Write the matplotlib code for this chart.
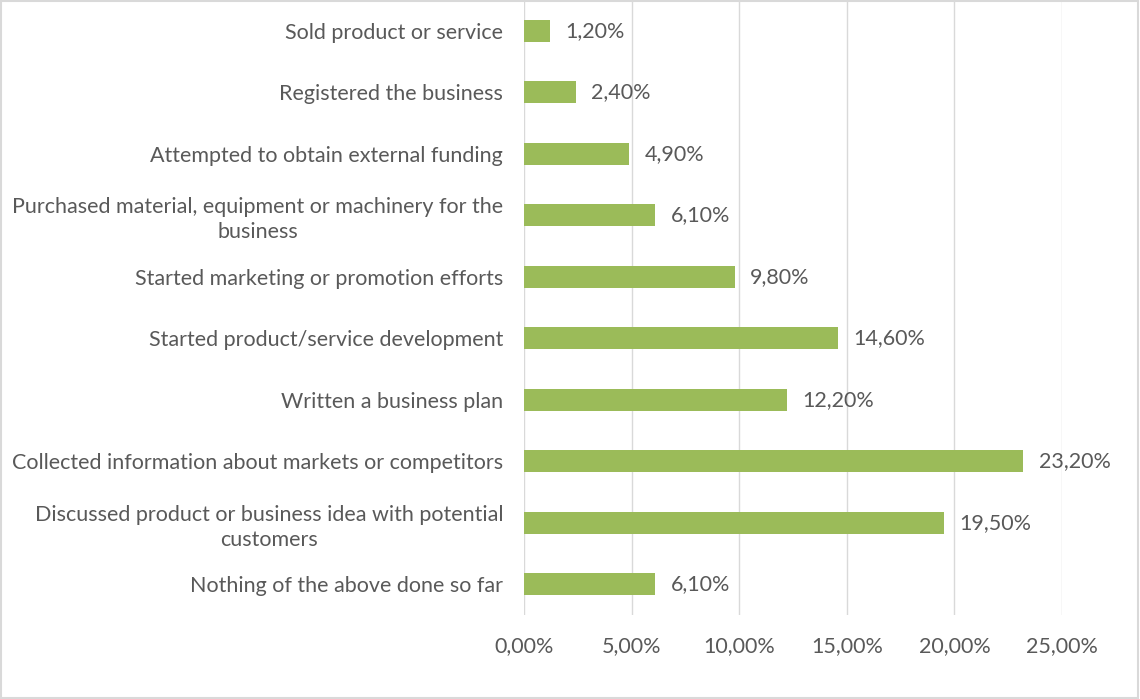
import matplotlib
matplotlib.use('Agg')
import matplotlib.pyplot as plt
import matplotlib.ticker as mticker
from matplotlib.patches import Rectangle

plt.rcParams['font.family'] = ['Lato', 'DejaVu Sans']

activities = [
    'Sold product or service',
    'Registered the business',
    'Attempted to obtain external funding',
    'Purchased material, equipment or machinery for the\nbusiness',
    'Started marketing or promotion efforts',
    'Started product/service development',
    'Written a business plan',
    'Collected information about markets or competitors',
    'Discussed product or business idea with potential\ncustomers',
    'Nothing of the above done so far',
]
shares = [1.2, 2.4, 4.9, 6.1, 9.8, 14.6, 12.2, 23.2, 19.5, 6.1]
x_ticks = [0, 5, 10, 15, 20, 25]

text_color = '#595959'
bar_color = '#9BBB59'
grid_color = '#D9D9D9'
fsize = 15.5

fig = plt.figure(figsize=(11.4, 6.99), dpi=100)
ax = fig.add_axes([524 / 1140, 1 - 615 / 699, (1062 - 524) / 1140, 615 / 699])

pos = list(range(len(activities)))
ax.barh(pos, shares, height=0.36, color=bar_color, zorder=3)
ax.set_ylim(len(activities) - 0.5, -0.5)
ax.set_xlim(0, 25)

for y, v in zip(pos, shares):
    ax.annotate(f'{v:.2f}%'.replace('.', ','), xy=(v, y), xytext=(11, 0),
                textcoords='offset points', va='center', ha='left',
                fontsize=fsize, color=text_color)

ax.set_yticks(pos)
ax.set_yticklabels(activities, fontsize=fsize, color=text_color,
                   multialignment='center', linespacing=1.3)
ax.set_xticks(x_ticks)
ax.xaxis.set_major_formatter(mticker.FuncFormatter(lambda v, _: f'{v:.2f}%'.replace('.', ',')))
ax.tick_params(axis='x', labelsize=fsize, colors=text_color, length=0, pad=15)
ax.tick_params(axis='y', length=0, pad=15)

ax.grid(axis='x', color=grid_color, linewidth=1, zorder=0)
ax.grid(axis='y', visible=False)
for s in ax.spines.values():
    s.set_visible(False)

# light frame round the whole chart area
fig.patches.append(Rectangle((0.001, 0.002), 0.997, 0.996, transform=fig.transFigure,
                             fill=False, edgecolor=grid_color, linewidth=1.5))

fig.savefig('out.png', dpi=100)
